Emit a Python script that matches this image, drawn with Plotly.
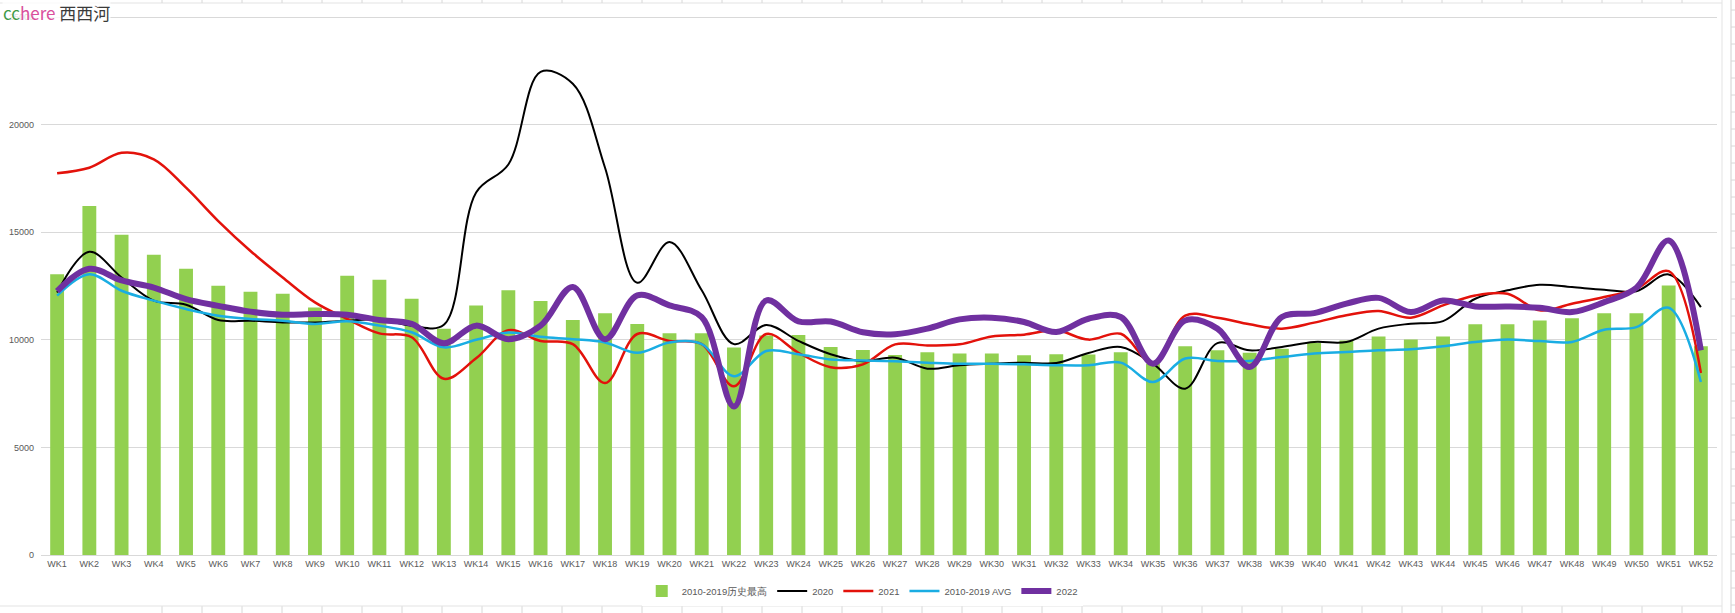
import plotly.graph_objects as go

weeks = [f"WK{i}" for i in range(1, 53)]

hist_max = [13050, 16220, 14880, 13950, 13300, 12510, 12240, 12140, 11500, 12980,
            12790, 11910, 10520, 11600, 12300, 11800, 10920, 11240, 10740, 10310,
            10310, 9640, 10200, 10220, 9670, 9530, 9290, 9420, 9370, 9370,
            9280, 9330, 9320, 9420, 8900, 9700, 9510, 9400, 9590, 9850,
            9970, 10160, 10020, 10160, 10720, 10720, 10900, 11000, 11230, 11230,
            12530, 9700]

y2020 = [12200, 14090, 12900, 11820, 11630, 10920, 10890, 10810, 10810, 10890,
         10950, 10660, 10700, 16850, 18150, 22450, 21900, 18000, 12650, 14550,
         12300, 9800, 10690, 9950, 9330, 9010, 9170, 8660, 8820, 8890,
         8940, 8920, 9390, 9670, 8890, 7730, 9850, 9510, 9670, 9900,
         9900, 10520, 10750, 10870, 11910, 12300, 12560, 12450, 12330, 12260,
         13040, 11520]

y2021 = [17740, 18000, 18690, 18390, 17070, 15520, 14130, 12900, 11740, 10970,
         10300, 10120, 8190, 9140, 10450, 9950, 9800, 7990, 10270, 9950,
         9800, 7840, 10270, 9400, 8730, 8860, 9790, 9740, 9790, 10160,
         10240, 10440, 10010, 10280, 8920, 11130, 11030, 10720, 10520, 10800,
         11140, 11340, 11030, 11600, 12060, 12140, 11370, 11680, 11990, 12370,
         13190, 8460]

avg = [12050, 13050, 12280, 11820, 11430, 11120, 10970, 10890, 10740, 10860,
       10660, 10350, 9650, 10000, 10340, 10140, 10030, 9880, 9400, 9880,
       9800, 8310, 9480, 9330, 9090, 9040, 9000, 8940, 8890, 8890,
       8860, 8820, 8820, 8940, 8040, 9130, 9020, 9020, 9200, 9360,
       9430, 9510, 9560, 9700, 9900, 10010, 9940, 9900, 10470, 10590,
       11490, 8040]

y2022 = [12260, 13300, 12760, 12430, 11890, 11580, 11310, 11170, 11200, 11170,
         10920, 10740, 9840, 10660, 10030, 10660, 12460, 10030, 12070, 11600,
         11050, 6900, 11830, 10860, 10850, 10350, 10260, 10520, 10950, 11030,
         10830, 10360, 10980, 11060, 8890, 10900, 10520, 8740, 11060, 11240,
         11680, 11950, 11290, 11830, 11550, 11550, 11490, 11290, 11750, 12420,
         14620, 9510]

names = ["2010-2019历史最高", "2020", "2021", "2010-2019 AVG", "2022"]
colors = ["#92D050", "#000000", "#E3120B", "#1AADE3", "#7030A0"]
widths = [None, 2, 2.5, 2.5, 6]

font_family = "Liberation Sans, Arial, sans-serif"

W, H = 1735, 613
ML, MR, MT, MB = 41, 18, 16, 58
PW, PH = W - ML - MR, H - MT - MB


def px_x(px):
    return (px - ML) / PW


def px_y(py):
    return (H - MB - py) / PH


fig = go.Figure()
fig.add_trace(go.Bar(x=weeks, y=hist_max, name=names[0], marker_color=colors[0],
                     width=0.43, marker_line_width=0))
for name, ys, c, w in zip(names[1:], [y2020, y2021, avg, y2022], colors[1:], widths[1:]):
    fig.add_trace(go.Scatter(x=weeks, y=ys, name=name, mode="lines",
                             line=dict(color=c, width=w, shape="spline", smoothing=1.0)))

fig.update_layout(
    width=W, height=H,
    margin=dict(l=ML, r=MR, t=MT, b=MB, autoexpand=False),
    paper_bgcolor="white", plot_bgcolor="white",
    font=dict(family=font_family, size=9, color="#595959"),
    showlegend=True,
    legend=dict(orientation="h", x=0.49, xanchor="center", y=px_y(591), yanchor="middle",
                font=dict(size=9.5, color="#595959"), traceorder="normal",
                itemwidth=30),
    xaxis=dict(showgrid=False, showline=True, linecolor="#d9d9d9", linewidth=1,
               ticks="", tickfont=dict(size=9, color="#595959"), tickangle=0,
               range=[-0.5, 51.5]),
    yaxis=dict(range=[0, 25050], tickvals=[0, 5000, 10000, 15000, 20000, 25000],
               showgrid=True, gridcolor="#d9d9d9",
               gridwidth=1, zeroline=False, showline=False, tickformat="d",
               tickfont=dict(size=9, color="#595959"), ticks="", ticklabelstandoff=6),
    bargap=0.57,
)

# faint spreadsheet cell borders around the chart
shapes = []
line_col = "#e3e3e3"
shapes.append(dict(type="line", xref="paper", yref="paper", x0=px_x(0), x1=px_x(1722),
                   y0=px_y(3), y1=px_y(3), line=dict(color=line_col, width=1)))
shapes.append(dict(type="line", xref="paper", yref="paper", x0=px_x(1722), x1=px_x(1722),
                   y0=px_y(0), y1=px_y(613), line=dict(color=line_col, width=1)))
shapes.append(dict(type="line", xref="paper", yref="paper", x0=px_x(1731), x1=px_x(1731),
                   y0=px_y(0), y1=px_y(613), line=dict(color="#d0d0d0", width=1)))
for gy in range(10, 613, 17):
    shapes.append(dict(type="line", xref="paper", yref="paper", x0=px_x(1731), x1=px_x(1735),
                       y0=px_y(gy), y1=px_y(gy), line=dict(color="#d8d8d8", width=1)))
for gx in range(162, 1722, 40):
    shapes.append(dict(type="line", xref="paper", yref="paper", x0=px_x(gx), x1=px_x(gx),
                       y0=px_y(0), y1=px_y(3), line=dict(color="#d8d8d8", width=1)))
    shapes.append(dict(type="line", xref="paper", yref="paper", x0=px_x(gx), x1=px_x(gx),
                       y0=px_y(606), y1=px_y(613), line=dict(color="#d8d8d8", width=1)))
shapes.append(dict(type="line", xref="paper", yref="paper", x0=px_x(0), x1=px_x(1722),
                   y0=px_y(606), y1=px_y(606), line=dict(color=line_col, width=1)))
fig.update_layout(shapes=shapes)

fig.add_annotation(xref="paper", yref="paper", x=px_x(2), y=px_y(12), xanchor="left", yanchor="middle",
                   showarrow=False, bgcolor="rgba(255,255,255,0.8)", borderpad=0,
                   text="<span style='color:#3f9a45'>cc</span><span style='color:#d94f9c'>here</span> "
                        "<span style='color:#3a3a3a'>西西河</span>",
                   font=dict(family="Noto Sans CJK SC, Liberation Sans, sans-serif", size=17))

fig.write_html("out.html",
               config={"displayModeBar": False},
               post_script="document.body.style.margin='0';document.body.style.padding='0';"
                           "document.body.style.overflow='hidden';")
